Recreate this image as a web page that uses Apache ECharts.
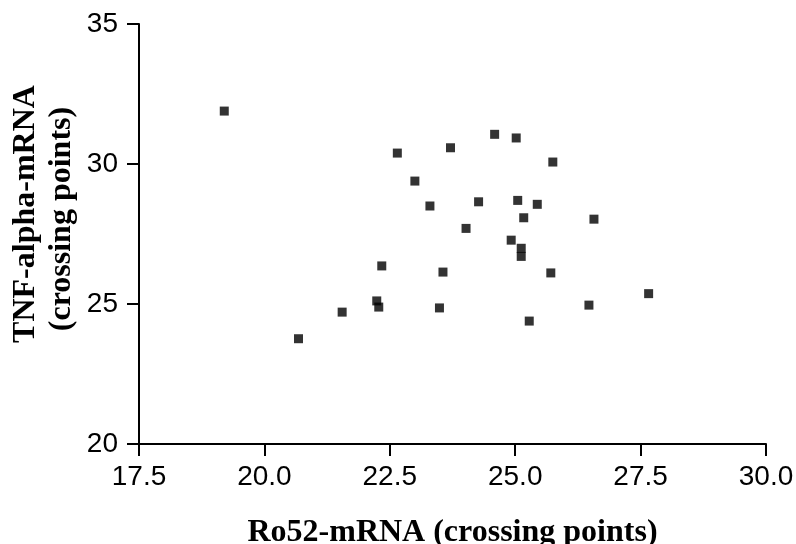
<!DOCTYPE html>
<html>
<head>
<meta charset="utf-8">
<script src="https://cdn.jsdelivr.net/npm/echarts@6/dist/echarts.min.js"></script>
<style>
  html, body { margin: 0; padding: 0; background: #fff; }
  #chart { width: 796px; height: 544px; }
</style>
</head>
<body>
<div id="chart"></div>
<script>
// Ro52-mRNA vs TNF-alpha-mRNA crossing points, one pair per sample
const ro52 = [19.20, 22.65, 23.71, 23.00, 23.30, 24.02, 22.34, 23.56, 22.24, 22.28,
              21.55, 23.49, 20.68, 24.59, 25.02, 25.75, 24.27, 25.05, 25.44, 25.17,
              26.57, 24.92, 25.12, 25.12, 25.71, 27.66, 26.47, 25.28];
const tnfAlpha = [31.89, 30.39, 30.58, 29.39, 28.50, 27.70, 26.36, 26.14, 25.11, 24.89,
                  24.71, 24.86, 23.76, 31.06, 30.93, 30.07, 28.65, 28.70, 28.56, 28.08,
                  28.03, 27.28, 26.99, 26.70, 26.11, 25.37, 24.96, 24.39];
const xTicks = [17.5, 20.0, 22.5, 25.0, 27.5, 30.0];
const yTicks = [20, 25, 30, 35];
const xTitle = 'Ro52-mRNA (crossing points)';
const yTitleLines = ['TNF-alpha-mRNA', '(crossing points)'];

const points = ro52.map((x, i) => [x, tnfAlpha[i]]);

const axisLineStyle = { color: '#000', width: 2 };
const tickFont = { color: '#000', fontFamily: 'Liberation Sans, Arial, sans-serif', fontSize: 28 };
const titleFont = { fill: '#000', fontFamily: 'Liberation Serif, Times New Roman, serif', fontWeight: 'bold', fontSize: 32 };

const chart = echarts.init(document.getElementById('chart'), null, { renderer: 'canvas' });
chart.setOption({
  animation: false,
  backgroundColor: '#fff',
  grid: { left: 139, right: 30, top: 24, bottom: 100, containLabel: false, outerBoundsMode: 'none' },
  xAxis: {
    type: 'value',
    min: xTicks[0],
    max: xTicks[xTicks.length - 1],
    interval: xTicks[1] - xTicks[0],
    axisLine: { show: true, onZero: false, lineStyle: axisLineStyle },
    axisTick: { show: true, length: 12, inside: false, lineStyle: axisLineStyle },
    axisLabel: Object.assign({ margin: 19, formatter: v => v.toFixed(1) }, tickFont),
    splitLine: { show: false },
    name: xTitle,
    nameLocation: 'middle',
    nameGap: 73,
    nameTextStyle: { color: '#000', fontFamily: 'Liberation Serif, Times New Roman, serif', fontWeight: 'bold', fontSize: 32 }
  },
  yAxis: {
    type: 'value',
    min: yTicks[0],
    max: yTicks[yTicks.length - 1],
    interval: yTicks[1] - yTicks[0],
    axisLine: { show: true, onZero: false, lineStyle: axisLineStyle },
    axisTick: { show: true, length: 12, inside: false, lineStyle: axisLineStyle },
    axisLabel: Object.assign({ margin: 21, formatter: v => String(v) }, tickFont),
    splitLine: { show: false }
  },
  graphic: [
    {
      type: 'text',
      x: 26, y: 214,
      rotation: Math.PI / 2,
      style: Object.assign({ text: yTitleLines[0], textAlign: 'center', textVerticalAlign: 'middle' }, titleFont)
    },
    {
      type: 'text',
      x: 62, y: 219,
      rotation: Math.PI / 2,
      style: Object.assign({ text: yTitleLines[1], textAlign: 'center', textVerticalAlign: 'middle' }, titleFont)
    }
  ],
  series: [{
    type: 'scatter',
    data: points,
    symbol: 'rect',
    symbolSize: 9,
    itemStyle: { color: '#000' }
  }]
});
</script>
</body>
</html>
